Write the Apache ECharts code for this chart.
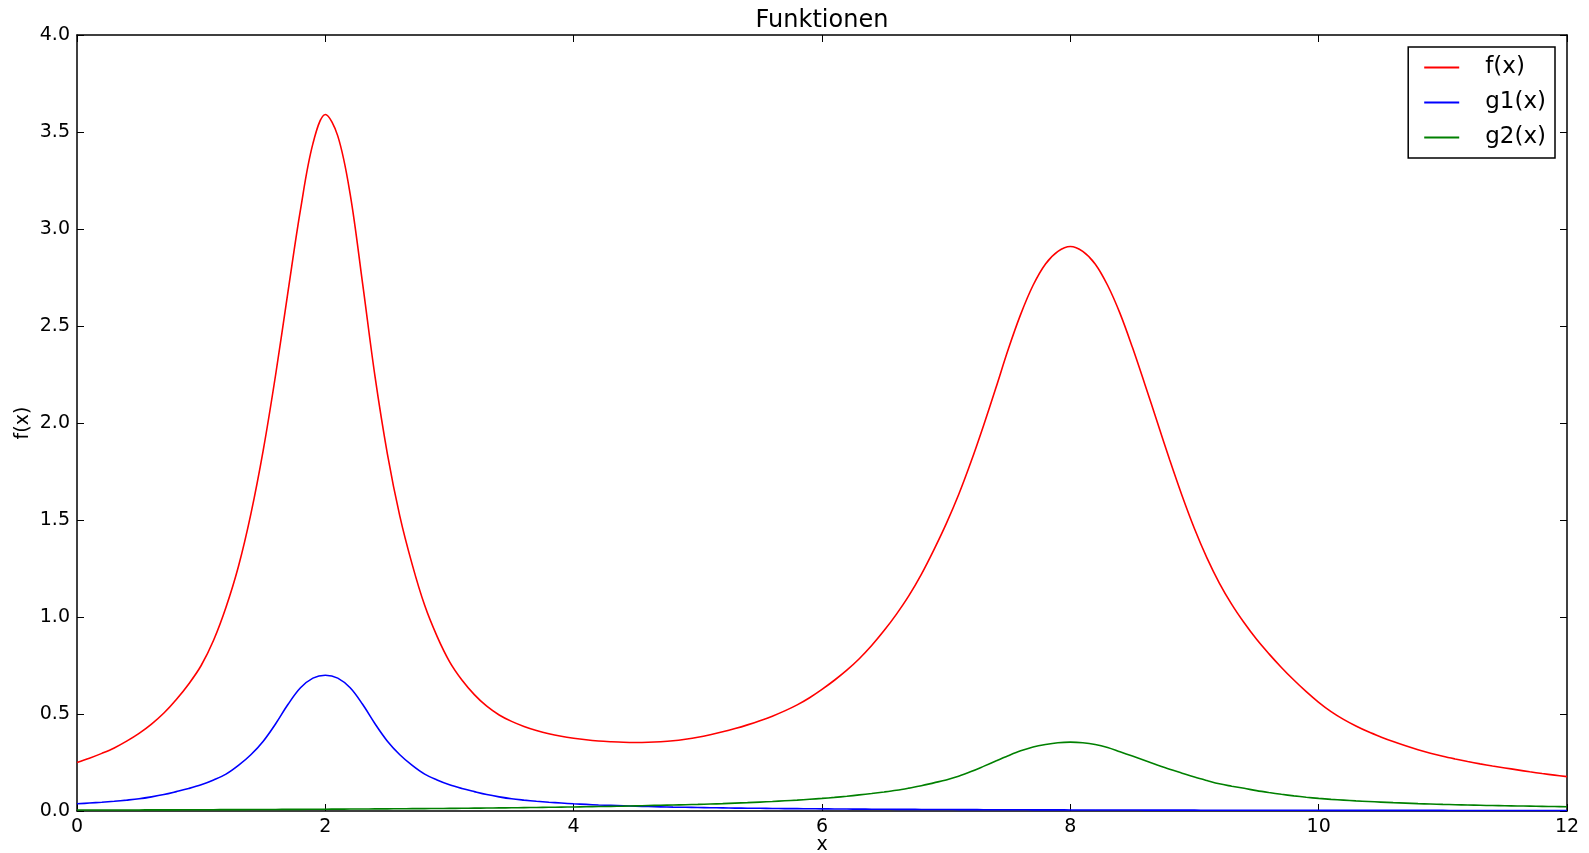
<!DOCTYPE html>
<html>
<head>
<meta charset="utf-8">
<title>Funktionen</title>
<script src="https://cdn.jsdelivr.net/npm/echarts@6/dist/echarts.min.js"></script>
<style>
  html, body { margin: 0; padding: 0; background: #fff; }
  #chart { width: 1589px; height: 853px; }
</style>
</head>
<body>
<div id="chart"></div>
<script>
var xs = [
  0.0, 0.1, 0.2, 0.3, 0.4, 0.5, 0.6, 0.7, 0.8, 0.9,
  1.0, 1.1, 1.2, 1.3, 1.4, 1.5, 1.6, 1.7, 1.8, 1.9,
  2.0, 2.1, 2.2, 2.3, 2.4, 2.5, 2.6, 2.7, 2.8, 2.9,
  3.0, 3.1, 3.2, 3.3, 3.4, 3.5, 3.6, 3.7, 3.8, 3.9,
  4.0, 4.1, 4.2, 4.3, 4.4, 4.5, 4.6, 4.7, 4.8, 4.9,
  5.0, 5.1, 5.2, 5.3, 5.4, 5.5, 5.6, 5.7, 5.8, 5.9,
  6.0, 6.1, 6.2, 6.3, 6.4, 6.5, 6.6, 6.7, 6.8, 6.9,
  7.0, 7.1, 7.2, 7.3, 7.4, 7.5, 7.6, 7.7, 7.8, 7.9,
  8.0, 8.1, 8.2, 8.3, 8.4, 8.5, 8.6, 8.7, 8.8, 8.9,
  9.0, 9.1, 9.2, 9.3, 9.4, 9.5, 9.6, 9.7, 9.8, 9.9,
  10.0, 10.1, 10.2, 10.3, 10.4, 10.5, 10.6, 10.7, 10.8, 10.9,
  11.0, 11.1, 11.2, 11.3, 11.4, 11.5, 11.6, 11.7, 11.8, 11.9,
  12.0];

var fVals = [
  0.25, 0.272, 0.297, 0.325, 0.36, 0.40, 0.448, 0.505, 0.575, 0.655,
  0.75, 0.88, 1.05, 1.26, 1.53, 1.86, 2.25, 2.68, 3.10, 3.44,
  3.59, 3.48, 3.18, 2.72, 2.24, 1.84, 1.52, 1.27, 1.06, 0.90,
  0.77, 0.675, 0.60, 0.54, 0.495, 0.462, 0.436, 0.415, 0.398, 0.385,
  0.375, 0.367, 0.361, 0.357, 0.354, 0.353, 0.354, 0.357, 0.362, 0.37,
  0.38, 0.393, 0.408, 0.425, 0.444, 0.465, 0.489, 0.516, 0.547, 0.584,
  0.627, 0.674, 0.726, 0.785, 0.853, 0.93, 1.015, 1.11, 1.22, 1.345,
  1.48, 1.63, 1.80, 1.985, 2.18, 2.38, 2.56, 2.71, 2.82, 2.885,
  2.91, 2.885, 2.82, 2.71, 2.565, 2.39, 2.20, 2.005, 1.81, 1.625,
  1.455, 1.305, 1.175, 1.065, 0.97, 0.885, 0.81, 0.74, 0.675, 0.615,
  0.56, 0.512, 0.472, 0.438, 0.408, 0.382, 0.358, 0.336, 0.316, 0.298,
  0.282, 0.268, 0.255, 0.243, 0.232, 0.222, 0.212, 0.202, 0.193, 0.185,
  0.177];

var g1Vals = [
  0.037, 0.041, 0.045, 0.05, 0.056, 0.063, 0.073, 0.085, 0.10, 0.116,
  0.135, 0.16, 0.19, 0.235, 0.29, 0.36, 0.45, 0.55, 0.635, 0.685,
  0.70, 0.685, 0.635, 0.55, 0.45, 0.36, 0.29, 0.235, 0.19, 0.16,
  0.135, 0.116, 0.10, 0.085, 0.073, 0.063, 0.056, 0.05, 0.045, 0.041,
  0.037, 0.034, 0.031, 0.029, 0.027, 0.025, 0.023, 0.0215, 0.020, 0.019,
  0.018, 0.017, 0.016, 0.015, 0.0145, 0.0138, 0.013, 0.0125, 0.012, 0.0115,
  0.011, 0.0105, 0.010, 0.0097, 0.0093, 0.009, 0.0086, 0.0083, 0.008, 0.0078,
  0.0075, 0.0073, 0.007, 0.0068, 0.0066, 0.0064, 0.0062, 0.006, 0.0058, 0.0057,
  0.0055, 0.0054, 0.0052, 0.0051, 0.005, 0.0049, 0.0047, 0.0046, 0.0045, 0.0044,
  0.0043, 0.0042, 0.0041, 0.004, 0.0039, 0.0038, 0.0037, 0.0037, 0.0036, 0.0035,
  0.0035, 0.0034, 0.0034, 0.0033, 0.0033, 0.0032, 0.0032, 0.0031, 0.0031, 0.003,
  0.003, 0.0029, 0.0029, 0.0028, 0.0028, 0.0027, 0.0027, 0.0026, 0.0026, 0.0025,
  0.0025];

var g2Vals = [
  0.005, 0.005, 0.005, 0.0052, 0.0053, 0.0055, 0.0057, 0.0058, 0.006, 0.0063,
  0.0065, 0.0067, 0.007, 0.0072, 0.0075, 0.0078, 0.008, 0.0083, 0.0086, 0.009,
  0.0093, 0.0096, 0.01, 0.0104, 0.0108, 0.0112, 0.0116, 0.012, 0.0125, 0.013,
  0.0135, 0.014, 0.0147, 0.0153, 0.016, 0.0167, 0.0175, 0.0182, 0.019, 0.02,
  0.021, 0.022, 0.023, 0.024, 0.025, 0.0265, 0.028, 0.0295, 0.031, 0.0325,
  0.034, 0.036, 0.038, 0.0405, 0.043, 0.046, 0.049, 0.0525, 0.056, 0.0605,
  0.065, 0.07, 0.076, 0.083, 0.09, 0.098, 0.107, 0.118, 0.13, 0.145,
  0.16, 0.179, 0.203, 0.23, 0.258, 0.285, 0.31, 0.33, 0.343, 0.352,
  0.355, 0.352, 0.343, 0.327, 0.305, 0.283, 0.26, 0.237, 0.215, 0.195,
  0.175, 0.157, 0.14, 0.128, 0.117, 0.105, 0.095, 0.086, 0.078, 0.071,
  0.065, 0.06, 0.056, 0.052, 0.049, 0.046, 0.043, 0.0405, 0.038, 0.036,
  0.034, 0.0325, 0.031, 0.0295, 0.028, 0.027, 0.026, 0.025, 0.024, 0.023,
  0.022];

var seriesNames = ["f(x)", "g1(x)", "g2(x)"];
var seriesColors = ["#ff0000", "#0000ff", "#008000"];

var FONT = "DejaVu Sans";

function pairs(vals) {
  return xs.map(function (x, i) { return [x, vals[i]]; });
}

var chart = echarts.init(document.getElementById("chart"), null, { renderer: "canvas" });

var frameLine = { show: true, onZero: false, lineStyle: { color: "#000", width: 1.5 } };
var innerTick = { show: true, inside: true, length: 7, lineStyle: { color: "#000", width: 1 } };

var option = {
  animation: false,
  backgroundColor: "#fff",
  title: {
    text: "Funktionen",
    left: 817,
    top: 4,
    textAlign: "center",
    textStyle: { fontFamily: FONT, fontSize: 24, fontWeight: "normal", color: "#000" }
  },
  legend: {
    data: seriesNames,
    orient: "vertical",
    right: 34,
    top: 47,
    padding: [8, 9, 8, 16],
    itemGap: 10,
    itemWidth: 35,
    itemHeight: 2,
    icon: "rect",
    borderColor: "#000",
    borderWidth: 1.5,
    borderRadius: 0,
    backgroundColor: "#fff",
    textStyle: { fontFamily: FONT, fontSize: 23, lineHeight: 25, color: "#000", padding: [0, 0, 0, 21] }
  },
  grid: { left: 77, right: 22, top: 35, bottom: 42, outerBoundsMode: "none" },
  xAxis: [
    {
      type: "value",
      min: 0,
      max: 12,
      interval: 2,
      name: "x",
      nameLocation: "middle",
      nameGap: 25,
      nameMoveOverlap: false,
      nameTextStyle: { fontFamily: FONT, fontSize: 19, color: "#000" },
      axisLine: frameLine,
      axisTick: innerTick,
      splitLine: { show: false },
      axisLabel: { fontFamily: FONT, fontSize: 19, color: "#000", margin: 7 }
    },
    {
      type: "value",
      position: "top",
      min: 0,
      max: 12,
      interval: 2,
      axisLine: frameLine,
      axisTick: innerTick,
      splitLine: { show: false },
      axisLabel: { show: false }
    }
  ],
  yAxis: [
    {
      type: "value",
      min: 0,
      max: 4,
      interval: 0.5,
      name: "f(x)",
      nameLocation: "middle",
      nameRotate: 90,
      nameGap: 44,
      nameMoveOverlap: false,
      nameTextStyle: { fontFamily: FONT, fontSize: 19, color: "#000" },
      axisLine: frameLine,
      axisTick: innerTick,
      splitLine: { show: false },
      axisLabel: {
        fontFamily: FONT, fontSize: 19, color: "#000", margin: 7,
        formatter: function (v) { return v.toFixed(1); }
      }
    },
    {
      type: "value",
      position: "right",
      min: 0,
      max: 4,
      interval: 0.5,
      axisLine: frameLine,
      axisTick: innerTick,
      splitLine: { show: false },
      axisLabel: { show: false }
    }
  ],
  series: [fVals, g1Vals, g2Vals].map(function (vals, i) {
    return {
      name: seriesNames[i],
      type: "line",
      xAxisIndex: 0,
      yAxisIndex: 0,
      data: pairs(vals),
      smooth: 0.35,
      symbol: "none",
      color: seriesColors[i],
      lineStyle: { color: seriesColors[i], width: 1.6 }
    };
  })
};

chart.setOption(option);
</script>
</body>
</html>
